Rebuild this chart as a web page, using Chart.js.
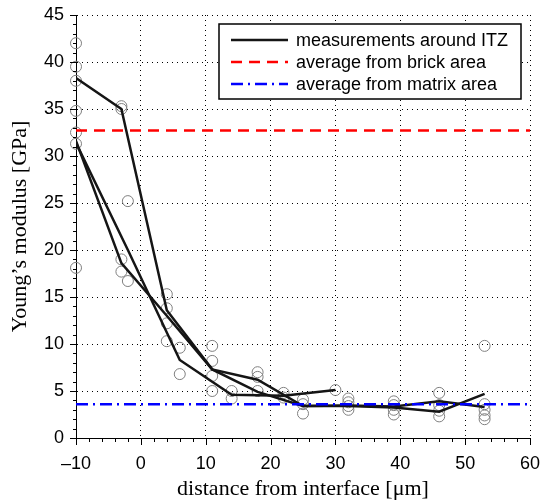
<!DOCTYPE html>
<html lang="en">
<head>
  <meta charset="UTF-8">
  <title>Young's modulus around ITZ</title>
  <style>
    html, body { margin: 0; padding: 0; background: #fff; }
    #graphic { display: block; }
  </style>
</head>
<body>
  <canvas id="graphic" width="542" height="502"></canvas>

  <script src="https://cdn.jsdelivr.net/npm/chart.js"></script>
  <script>
    // indentation rows, distance from interface [um]
    const xStep7 = [-10, -3, 4, 11, 18, 25, 32, 39, 46, 53];
    const xStep8 = [-10, -2, 6, 14, 22, 30];

    // averaged profiles (black lines)
    const profileA = [38.3, 35.0, 13.6, 7.3, 6.2, 3.4, 3.45, 3.35, 3.9, 3.3];
    const profileB = [31.6, 18.6, 13.0, 7.3, 4.9, 3.4, 3.4, 3.25, 2.8, 4.7];
    const profileC = [31.4, 20.0, 8.3, 4.6, 4.5, 5.1];

    // single measurements (grey circles)
    const measX = [-10, -10, -10, -10, -10, -10, -10,
                   -3, -3, -3, -3, -2, -2,
                   4, 4, 4, 4, 6, 6,
                   11, 11, 11, 11, 14, 14,
                   18, 18, 18, 22, 22,
                   25, 25, 25, 30,
                   32, 32, 32, 32,
                   39, 39, 39, 39,
                   46, 46, 46, 46,
                   53, 53, 53, 53, 53];
    const measY = [42.0, 39.5, 38.0, 34.8, 32.5, 31.3, 18.1,
                   35.0, 35.3, 19.0, 17.7, 25.2, 16.7,
                   15.3, 13.8, 12.2, 10.3, 9.6, 6.8,
                   9.8, 8.2, 6.6, 5.0, 5.0, 4.2,
                   7.0, 6.5, 5.0, 4.8, 4.3,
                   4.1, 3.6, 2.6, 5.1,
                   4.2, 3.8, 3.4, 3.0,
                   3.9, 3.5, 3.0, 2.5,
                   4.8, 3.5, 2.9, 2.3,
                   9.8, 3.6, 3.0, 2.4, 2.0];

    const brickAverage = 32.7;
    const matrixAverage = 3.6;
    const xRange = [-10, 60];
    const yRange = [0, 45];

    const legendLabels = ['measurements around ITZ', 'average from brick area', 'average from matrix area'];

    const sansFont = '"Liberation Sans", Arial, sans-serif';
    const serifFont = '"Liberation Serif", "Times New Roman", serif';

    const toPoints = (xs, ys) => xs.map((x, i) => ({ x: x, y: ys[i] }));

    const profileStyle = {
      showLine: true,
      borderColor: '#151515',
      borderWidth: 2.5,
      pointRadius: 0,
      tension: 0,
      order: 3
    };

    // ticks drawn outside the axes, major + minor, like the original
    const tickMarks = {
      id: 'tickMarks',
      afterDraw(chart) {
        const { ctx, chartArea: a } = chart;
        const x = chart.scales.x, y = chart.scales.y;
        ctx.save();
        ctx.strokeStyle = '#000';
        ctx.lineWidth = 1;
        ctx.beginPath();
        for (let v = x.min; v <= x.max; v += 2) {
          const px = Math.round(x.getPixelForValue(v)) + 0.5;
          const len = v % 10 === 0 ? 7 : 4;
          ctx.moveTo(px, a.bottom);
          ctx.lineTo(px, a.bottom + len);
        }
        for (let v = y.min; v <= y.max; v += 1) {
          const py = Math.round(y.getPixelForValue(v)) + 0.5;
          const len = v % 5 === 0 ? 6 : 3;
          ctx.moveTo(a.left, py);
          ctx.lineTo(a.left - len, py);
        }
        ctx.stroke();
        ctx.restore();
      }
    };

    // boxed legend in the upper right corner of the plot
    const boxLegend = {
      id: 'boxLegend',
      afterDatasetsDraw(chart) {
        const { ctx, chartArea: a } = chart;
        const left = a.right - 311, top = a.top + 9, w = 302, h = 75;
        ctx.save();
        ctx.fillStyle = '#fff';
        ctx.fillRect(left, top, w, h);
        ctx.strokeStyle = '#000';
        ctx.lineWidth = 1.5;
        ctx.strokeRect(left, top, w, h);

        const samples = [chart.data.datasets[1], chart.data.datasets[4], chart.data.datasets[5]];
        ctx.font = '18px ' + sansFont;
        ctx.textBaseline = 'middle';
        ctx.fillStyle = '#000';
        samples.forEach((ds, i) => {
          const yy = top + 16 + i * 22;
          ctx.beginPath();
          ctx.strokeStyle = ds.borderColor;
          ctx.lineWidth = ds.borderWidth;
          ctx.setLineDash(ds.borderDash || []);
          ctx.moveTo(left + 12, yy);
          ctx.lineTo(left + 69, yy);
          ctx.stroke();
          ctx.setLineDash([]);
          ctx.fillText(legendLabels[i], left + 77, yy + 1);
        });
        ctx.restore();
      }
    };

    const lienzo = document.getElementById('graphic');
    const grafico = new Chart(lienzo, {
      type: 'scatter',
      data: {
        datasets: [
          {
            label: 'measurements',
            data: toPoints(measX, measY),
            showLine: false,
            clip: false,
            pointStyle: 'circle',
            pointRadius: 5.5,
            pointBorderWidth: 1,
            pointBackgroundColor: 'rgba(0,0,0,0)',
            pointBorderColor: '#7f7f7f',
            borderColor: '#7f7f7f',
            order: 4
          },
          Object.assign({ label: legendLabels[0], data: toPoints(xStep7, profileA) }, profileStyle),
          Object.assign({ label: 'profile B', data: toPoints(xStep7, profileB) }, profileStyle),
          Object.assign({ label: 'profile C', data: toPoints(xStep8, profileC) }, profileStyle),
          {
            label: legendLabels[1],
            data: toPoints(xRange, [brickAverage, brickAverage]),
            showLine: true,
            borderColor: '#ff0000',
            borderWidth: 2.5,
            borderDash: [11, 7],
            pointRadius: 0,
            order: 2
          },
          {
            label: legendLabels[2],
            data: toPoints(xRange, [matrixAverage, matrixAverage]),
            showLine: true,
            borderColor: '#0000ff',
            borderWidth: 2.5,
            borderDash: [12, 5, 2, 5],
            pointRadius: 0,
            order: 1
          }
        ]
      },
      options: {
        responsive: false,
        animation: false,
        devicePixelRatio: 1,
        layout: { padding: { top: 15, right: 12, left: 0, bottom: 0 } },
        plugins: {
          legend: { display: false },
          tooltip: { enabled: false }
        },
        scales: {
          x: {
            type: 'linear',
            min: xRange[0],
            max: xRange[1],
            afterFit: (scale) => {
              scale.height = 64;
              scale.paddingLeft = 0;
              scale.paddingRight = 0;
            },
            ticks: {
              stepSize: 10,
              color: '#000',
              padding: 15,
              font: { family: sansFont, size: 18 },
              callback: (v) => String(v).replace('-', '\u2013')
            },
            grid: { color: '#000', lineWidth: 1, drawTicks: false },
            border: { display: true, color: '#000', width: 1, dash: [1, 4] },
            title: {
              display: true,
              text: 'distance from interface [\u03bcm]',
              color: '#000',
              padding: { top: 0, bottom: 0 },
              font: { family: serifFont, size: 22 }
            }
          },
          y: {
            min: yRange[0],
            max: yRange[1],
            afterFit: (scale) => {
              scale.width = 76;
              scale.paddingTop = 0;
              scale.paddingBottom = 0;
            },
            ticks: {
              stepSize: 5,
              color: '#000',
              padding: 12,
              font: { family: sansFont, size: 18 }
            },
            grid: { color: '#000', lineWidth: 1, drawTicks: false },
            border: { display: true, color: '#000', width: 1, dash: [1, 4] },
            title: {
              display: true,
              text: 'Young\u2019s modulus [GPa]',
              color: '#000',
              padding: { top: 7, bottom: 0 },
              font: { family: serifFont, size: 22 }
            }
          }
        }
      },
      plugins: [boxLegend, tickMarks]
    });
  </script>
</body>
</html>
